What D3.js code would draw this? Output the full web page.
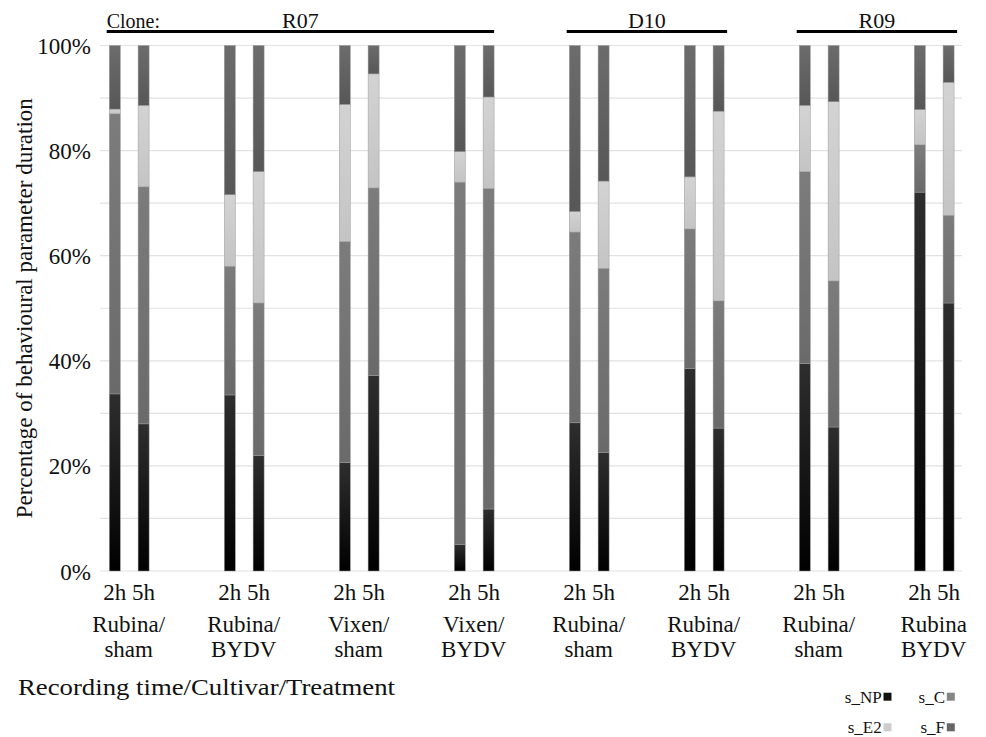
<!DOCTYPE html>
<html>
<head>
<meta charset="utf-8">
<script src="https://cdn.jsdelivr.net/npm/d3@7"></script>
<style>
  body { margin: 0; background: #fff; }
  svg { display: block; font-family: "Liberation Serif", "Times New Roman", serif; }
</style>
</head>
<body>
<svg id="chart" width="986" height="737"></svg>
<script>
// ---------------- data ----------------
const groupLabels = [
  ["Rubina/", "sham"], ["Rubina/", "BYDV"], ["Vixen/", "sham"], ["Vixen/", "BYDV"],
  ["Rubina/", "sham"], ["Rubina/", "BYDV"], ["Rubina/", "sham"], ["Rubina", "BYDV"]
];
const times = ["2h", "5h"];
const clones = ["R07", "D10", "R09"];
const cloneGroups = [[0, 3], [4, 5], [6, 7]];
const seriesKeys = ["s_NP", "s_C", "s_E2", "s_F"];
// values per bar, order: group0-2h, group0-5h, group1-2h, ...
const sNP = [33.7, 28.0, 33.5, 22.0, 20.6, 37.2, 5.0, 11.8, 28.2, 22.6, 38.5, 27.2, 39.5, 27.4, 72.1, 51.0];
const sC  = [53.3, 45.1, 24.5, 29.0, 42.1, 35.7, 69.0, 61.0, 36.3, 35.0, 26.6, 24.2, 36.5, 27.8, 9.0, 16.7];
const sE2 = [0.9, 15.5, 13.6, 25.0, 26.1, 21.7, 5.8, 17.4, 3.9, 16.6, 9.9, 36.1, 12.6, 34.1, 6.7, 25.3];
const sF  = [12.1, 11.4, 28.4, 24.0, 11.2, 5.4, 20.2, 9.8, 31.6, 25.8, 25.0, 12.5, 11.4, 10.7, 12.2, 7.0];
const yTicks = [0, 20, 40, 60, 80, 100];
const legendLabels = ["s_NP", "s_C", "s_E2", "s_F"];

// ---------------- build ----------------
const rows = sNP.map((v, i) => ({
  group: Math.floor(i / 2), time: times[i % 2],
  s_NP: v, s_C: sC[i], s_E2: sE2[i], s_F: sF[i]
}));

const svg = d3.select("#chart");
const plotLeft = 100, plotRight = 962;
const y = d3.scaleLinear().domain([0, 100]).range([571, 45.5]);
const xg = d3.scaleBand().domain(d3.range(groupLabels.length)).range([71.7, 991.7]).padding(0);
const step = xg.bandwidth();
const xt = d3.scalePoint().domain(times).range([step / 2 - 14.4, step / 2 + 14.4]);
const barW = 11;
const barX = d => xg(d.group) + xt(d.time);

// gradients
const defs = svg.append("defs");
const grads = {
  s_NP: ["#000000", "#2e2e2e"],
  s_C: ["#6a6a6a", "#7c7c7c"],
  s_E2: ["#c4c4c4", "#d3d3d3"],
  s_F: ["#575757", "#6c6c6c"]
};
seriesKeys.forEach(k => {
  const g = defs.append("linearGradient").attr("id", "g_" + k)
    .attr("x1", 0).attr("y1", 1).attr("x2", 0).attr("y2", 0);
  g.append("stop").attr("offset", "0%").attr("stop-color", grads[k][0]);
  g.append("stop").attr("offset", "100%").attr("stop-color", grads[k][1]);
});
const legendColors = { s_NP: "#111", s_C: "#858585", s_E2: "#cdcdcd", s_F: "#666" };

// grid
svg.append("g").selectAll("line").data(d3.range(0, 101, 10)).join("line")
  .attr("x1", plotLeft).attr("x2", plotRight)
  .attr("y1", d => y(d)).attr("y2", d => y(d))
  .attr("stroke", "#e2e2e2").attr("stroke-width", 1.2);

// y axis labels
const yAxis = d3.axisLeft(y).tickValues(yTicks).tickFormat(d => d + "%").tickSize(0).tickPadding(0);
const ya = svg.append("g").attr("transform", `translate(${plotLeft - 9},0)`).call(yAxis);
ya.select(".domain").remove();
ya.selectAll("text").attr("font-size", 23).attr("font-family", "Liberation Serif").attr("fill", "#111").attr("dy", "0.35em");

// bars
const stack = d3.stack().keys(seriesKeys)(rows);
const layers = svg.append("g").selectAll("g").data(stack).join("g")
  .attr("fill", d => `url(#g_${d.key})`);
layers.selectAll("rect").data(d => d).join("rect")
  .attr("x", d => barX(d.data) - barW / 2)
  .attr("width", barW)
  .attr("y", d => y(d[1]))
  .attr("height", d => y(d[0]) - y(d[1]))
  .attr("stroke", "#9a9a9a").attr("stroke-width", 0.5);

// x labels: times
const xl = svg.append("g").attr("font-size", 23).attr("fill", "#111").attr("text-anchor", "middle");
xl.selectAll("text.t").data(rows).join("text").attr("class", "t")
  .attr("x", d => barX(d)).attr("y", 600).text(d => d.time);
groupLabels.forEach((lab, gi) => {
  lab.forEach((s, li) => {
    xl.append("text").attr("x", xg(gi) + step / 2 - 0.5).attr("y", 631.7 + li * 25).text(s);
  });
});

// x title
svg.append("text").attr("x", 18).attr("y", 695).attr("font-size", 23).attr("fill", "#111")
  .attr("textLength", 377).attr("lengthAdjust", "spacingAndGlyphs")
  .text("Recording time/Cultivar/Treatment");

// y title
svg.append("text").attr("transform", `translate(32,${(y(0) + y(100)) / 2}) rotate(-90)`)
  .attr("text-anchor", "middle").attr("font-size", 23).attr("fill", "#111")
  .text("Percentage of behavioural parameter duration");

// clone header
svg.append("text").attr("x", 106.7).attr("y", 28.3).attr("font-size", 20).attr("fill", "#111").text("Clone:");
const hdr = svg.append("g");
clones.forEach((c, ci) => {
  const [a, b] = cloneGroups[ci];
  const x0 = xg(a) + xt("2h") - barW / 2 - 2.6;
  const x1 = xg(b) + xt("5h") + barW / 2 + (ci === 0 ? 0 : 3);
  hdr.append("line").attr("x1", x0).attr("x2", x1).attr("y1", 31.5).attr("y2", 31.5)
    .attr("stroke", "#000").attr("stroke-width", 3.2);
  hdr.append("text").attr("x", (x0 + x1) / 2).attr("y", 28.3).attr("text-anchor", "middle")
    .attr("font-size", 22).attr("fill", "#111").text(c);
});

// legend
const legPos = [[881.7, 702.7], [945, 702.7], [881.7, 733.3], [945, 733.3]];
const lg = svg.append("g").attr("font-size", 17).attr("fill", "#111");
legendLabels.forEach((l, i) => {
  const [tx, ty] = legPos[i];
  lg.append("text").attr("x", tx).attr("y", ty).attr("text-anchor", "end").text(l);
  lg.append("rect").attr("x", tx + 1.8).attr("y", ty - 10).attr("width", 8).attr("height", 8)
    .attr("fill", legendColors[seriesKeys[i]]);
});
</script>
</body>
</html>
